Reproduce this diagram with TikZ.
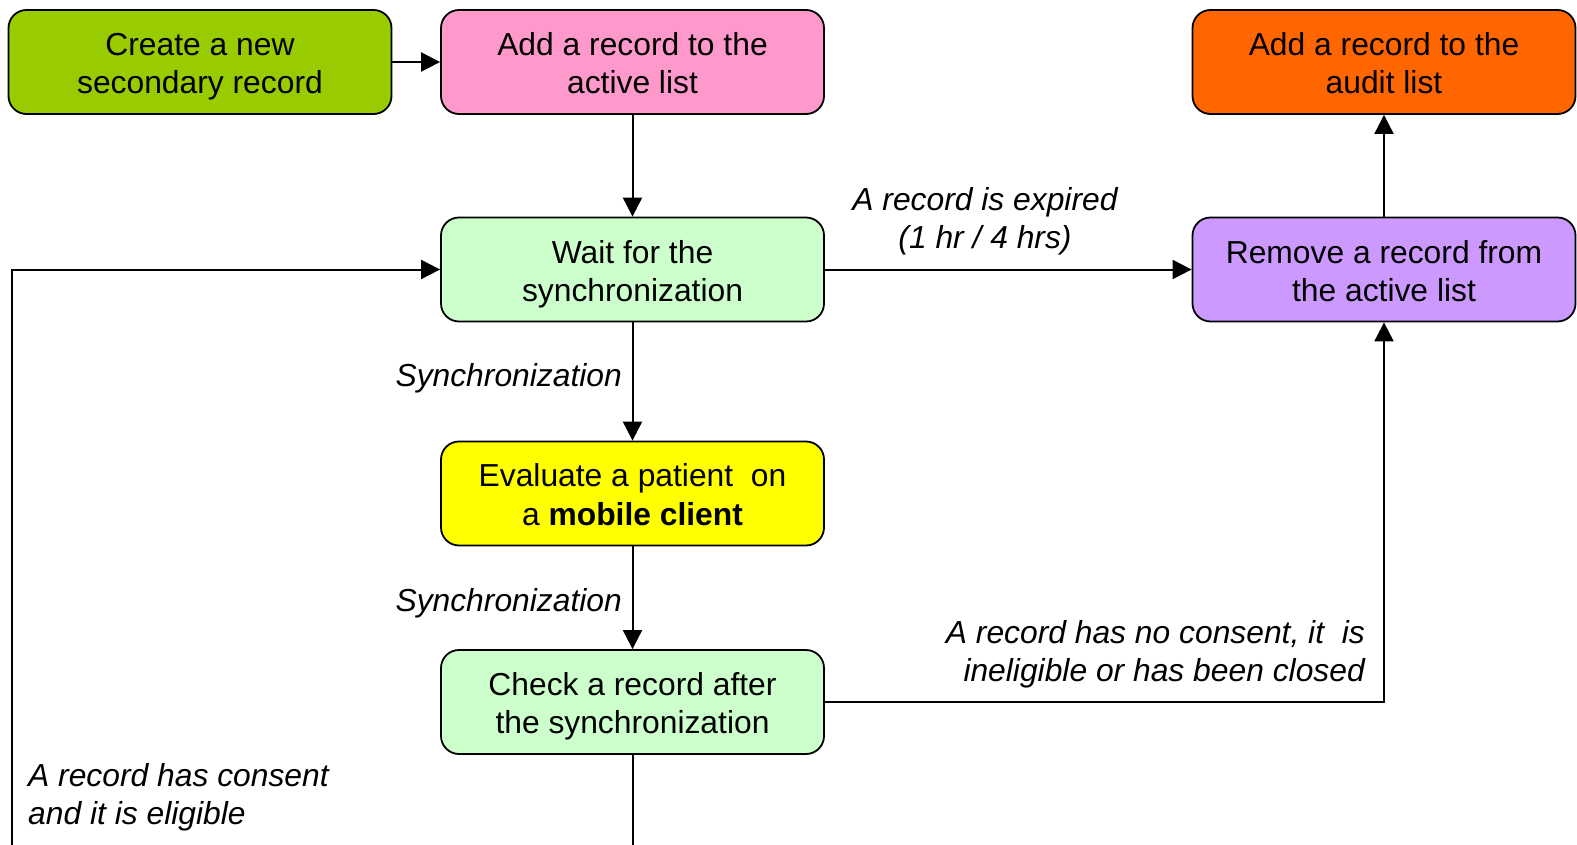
\documentclass[tikz,border=0pt]{standalone}
\usepackage{fontspec}
\setmainfont{Liberation Sans}
\usetikzlibrary{arrows.meta}
\definecolor{cgreen}{HTML}{99CC00}
\definecolor{cpink}{HTML}{FF99CC}
\definecolor{corange}{HTML}{FF6600}
\definecolor{cmint}{HTML}{CCFFCC}
\definecolor{cviolet}{HTML}{CC99FF}
\definecolor{cyellow}{HTML}{FFFF00}
% invisible strut so every box centres its two lines the same way
\newcommand{\bstrut}{\rule[-6pt]{0pt}{37.6pt}}
\tikzset{
  box/.style={draw=black, line width=1.8pt, rounded corners=18pt,
    minimum width=383pt, minimum height=104pt, align=center,
    font=\fontsize{31.8}{38}\selectfont, inner sep=0pt},
  conn/.style={line width=2pt, -{Triangle[length=19pt,width=19pt]}},
  lbl/.style={font=\fontsize{31.8}{38}\selectfont\itshape, inner sep=0pt},
}
\begin{document}
\begin{tikzpicture}[x=1pt,y=-1pt]
\useasboundingbox (0,0) rectangle (1577,845);
\clip (0,0) rectangle (1577,845);
% process boxes
\node[box, fill=cgreen]  (create) at (200,62)    {\bstrut Create a new\\\bstrut secondary record};
\node[box, fill=cpink]   (active) at (632.5,62)  {\bstrut Add a record to the\\\bstrut active list};
\node[box, fill=corange] (audit)  at (1384,62)   {\bstrut Add a record to the\\\bstrut audit list};
\node[box, fill=cmint]   (wait)   at (632.5,269.5) {\bstrut Wait for the\\\bstrut synchronization};
\node[box, fill=cviolet] (remove) at (1384,269.5)  {\bstrut Remove a record from\\\bstrut the active list};
\node[box, fill=cyellow] (eval)   at (632.5,493.5) {\bstrut Evaluate a patient\ \ on\\\bstrut a \textbf{mobile client}};
\node[box, fill=cmint]   (check)  at (632.5,702)   {\bstrut Check a record after\\\bstrut the synchronization};
% edge labels
\node[lbl, align=center] (lexp) at (985,221) {A record is expired\\(1 hr / 4 hrs)};
\node[lbl, anchor=east] (lsync1) at (622,378) {Synchronization};
\node[lbl, anchor=east] (lsync2) at (622,603) {Synchronization};
\node[lbl, align=right, anchor=east] (lno) at (1365,654) {A record has no consent, it\ \ is\\ineligible or has been closed};
\node[lbl, align=left, anchor=west] (lyes) at (28,797) {A record has consent\\and it is eligible};
% connectors
\draw[conn] (create) -- (active);
\draw[conn] (active) -- (wait);
\draw[conn] (wait) -- (eval);
\draw[conn] (eval) -- (check);
\draw[conn] (wait) -- (remove);
\draw[conn] (remove) -- (audit);
\draw[conn] (check.east) -| (remove.south);
\coordinate (loopA) at (632.5,880);
\coordinate (loopB) at (12,880);
\draw[conn] (check.south) -- (loopA) -- (loopB) |- (wait.west);
\end{tikzpicture}
\end{document}
